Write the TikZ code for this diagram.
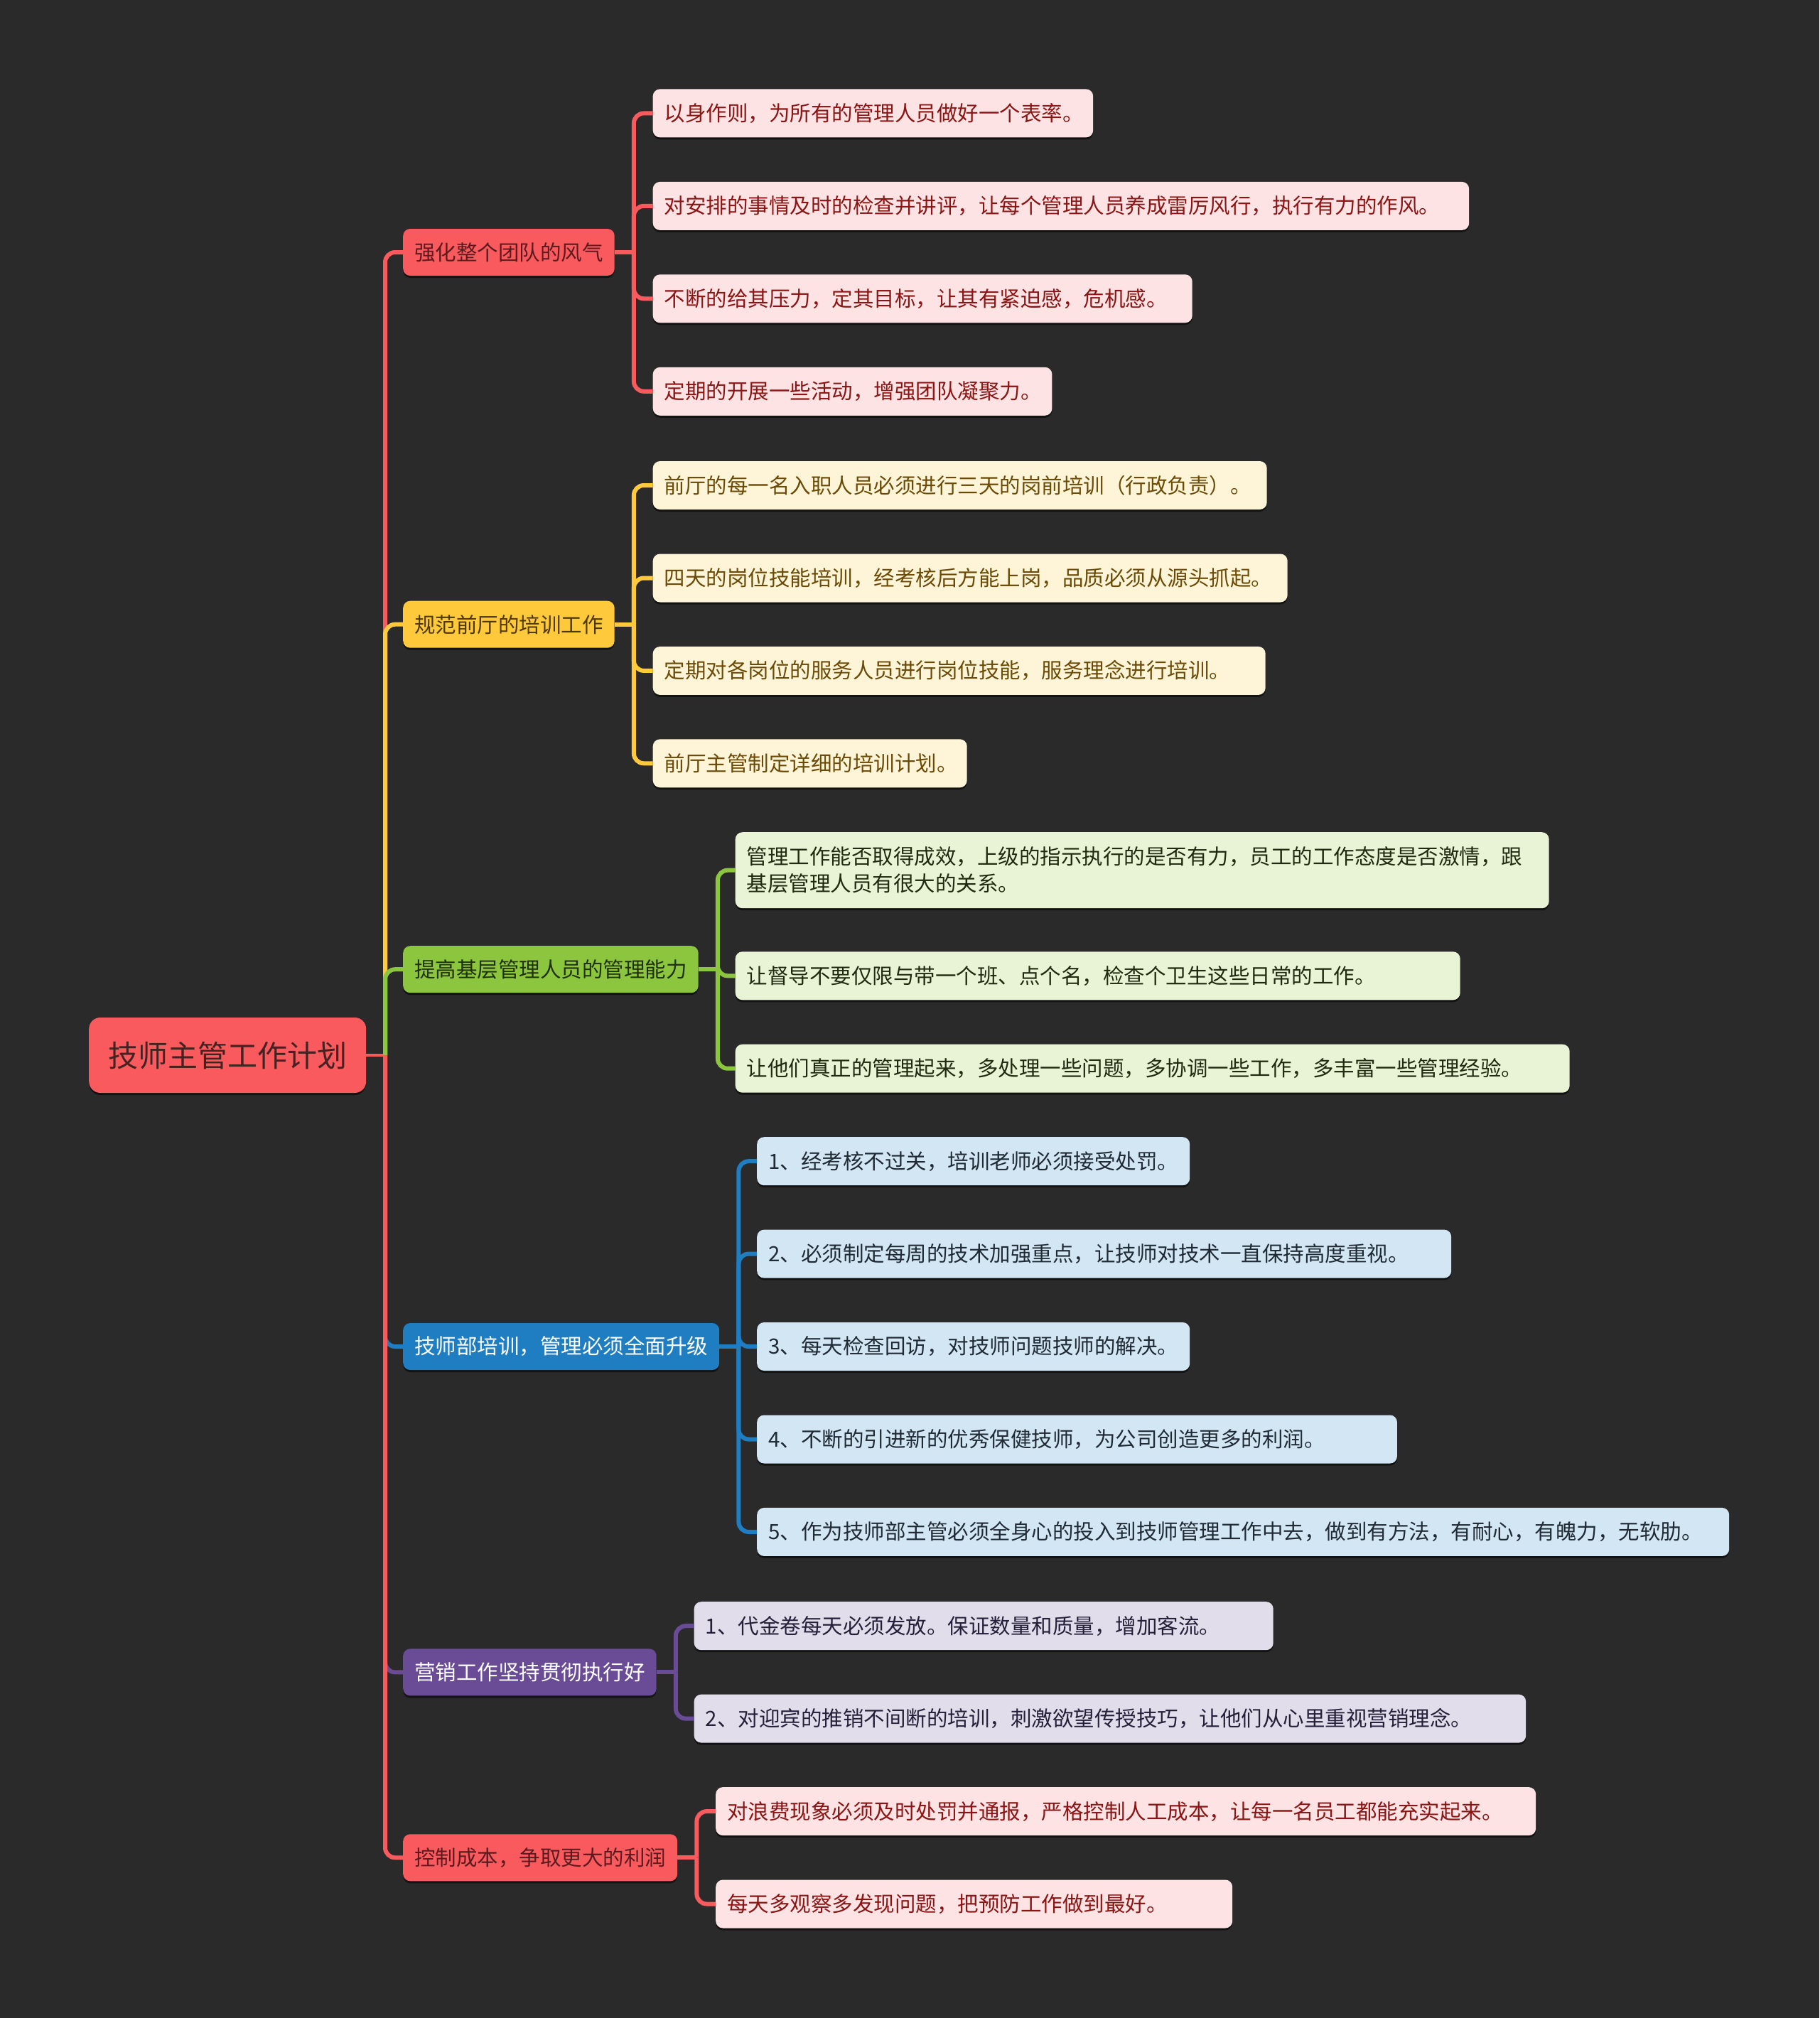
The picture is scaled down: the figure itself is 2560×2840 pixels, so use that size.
\documentclass[tikz,border=0pt]{standalone}
\usepackage{fontspec}
\setmainfont{Noto Sans CJK SC}
\usetikzlibrary{shadows}
\definecolor{bg}{HTML}{2A2A2A}
\definecolor{cred}{HTML}{F95A5E}
\definecolor{cyel}{HTML}{FFC93C}
\definecolor{cgrn}{HTML}{8CC63E}
\definecolor{cblu}{HTML}{1F7EC2}
\definecolor{cpur}{HTML}{6A4C96}
\definecolor{lred}{HTML}{FDE3E3}
\definecolor{lyel}{HTML}{FEF5D9}
\definecolor{lgrn}{HTML}{E9F3D6}
\definecolor{lblu}{HTML}{D3E6F3}
\definecolor{lpur}{HTML}{E1DDEA}
\definecolor{tred}{HTML}{8B1414}
\definecolor{tyel}{HTML}{6B4A05}
\definecolor{tgrn}{HTML}{1F2A10}
\definecolor{tblu}{HTML}{1F2A35}
\definecolor{tpur}{HTML}{25203A}
\definecolor{troot}{HTML}{452222}
\definecolor{tl1red}{HTML}{5C1A1E}
\definecolor{tl1yel}{HTML}{4D3800}
\definecolor{tl1grn}{HTML}{1F3008}
\tikzset{
  box/.style={rounded corners=10pt, inner xsep=16pt, inner ysep=0pt, anchor=west,
    font=\fontsize{29.5}{38}\selectfont,
    drop shadow={shadow xshift=0pt, shadow yshift=-3pt, opacity=0.55, fill=black}},
  lone/.style={box, minimum height=66pt},
  leaf/.style={box, minimum height=68pt, align=left},
  leafR/.style={leaf, fill=lred, text=tred},
  leafY/.style={leaf, fill=lyel, text=tyel},
  leafG/.style={leaf, fill=lgrn, text=tgrn},
  leafB/.style={leaf, fill=lblu, text=tblu},
  leafP/.style={leaf, fill=lpur, text=tpur},
  conn/.style={line width=6pt, rounded corners=14pt},
}
\begin{document}
\begin{tikzpicture}[x=1pt, y=-1pt]
\path[use as bounding box, fill=bg] (0,0) rectangle (2560,2840);

% root
\node[box, rounded corners=16pt, fill=cred, text=troot, minimum width=390pt, minimum height=106pt,
  font=\fontsize{42}{50}\selectfont] (root) at (125,1485) {技师主管工作计划};

% level 1
\node[lone, fill=cred, text=tl1red] (n1) at (567,355) {强化整个团队的风气};
\node[lone, fill=cyel, text=tl1yel] (n2) at (567,878.7) {规范前厅的培训工作};
\node[lone, fill=cgrn, text=tl1grn] (n3) at (567,1364.2) {提高基层管理人员的管理能力};
\node[lone, fill=cblu, text=white] (n4) at (567,1895) {技师部培训，管理必须全面升级};
\node[lone, fill=cpur, text=white] (n5) at (567,2353.4) {营销工作坚持贯彻执行好};
\node[lone, fill=cred, text=tl1red] (n6) at (567,2614.3) {控制成本，争取更大的利润};

% branch 1 leaves
\node[leafR, text width=587.5pt] (a1) at (918.5,159.4) {以身作则，为所有的管理人员做好一个表率。};
\node[leafR, text width=1116.5pt] (a2) at (918.5,289.9) {对安排的事情及时的检查并讲评，让每个管理人员养成雷厉风行，执行有力的作风。};
\node[leafR, text width=727pt] (a3) at (918.5,420.3) {不断的给其压力，定其目标，让其有紧迫感，危机感。};
\node[leafR, text width=529.7pt] (a4) at (918.5,550.8) {定期的开展一些活动，增强团队凝聚力。};

% branch 2 leaves
\node[leafY, text width=832pt] (b1) at (918.5,683) {前厅的每一名入职人员必须进行三天的岗前培训（行政负责）。};
\node[leafY, text width=861pt] (b2) at (918.5,813.5) {四天的岗位技能培训，经考核后方能上岗，品质必须从源头抓起。};
\node[leafY, text width=830pt] (b3) at (918.5,943.9) {定期对各岗位的服务人员进行岗位技能，服务理念进行培训。};
\node[leafY, text width=410pt] (b4) at (918.5,1074.3) {前厅主管制定详细的培训计划。};

% branch 3 leaves
\node[leafG, text width=1113pt, minimum height=107pt] (c1) at (1034.5,1224.7) {管理工作能否取得成效，上级的指示执行的是否有力，员工的工作态度是否激情，跟\\基层管理人员有很大的关系。};
\node[leafG, text width=988pt] (c2) at (1034.5,1373.3) {让督导不要仅限与带一个班、点个名，检查个卫生这些日常的工作。};
\node[leafG, text width=1142pt] (c3) at (1034.5,1503.7) {让他们真正的管理起来，多处理一些问题，多协调一些工作，多丰富一些管理经验。};

% branch 4 leaves
\node[leafB, text width=577pt] (d1) at (1065,1634.2) {1、经考核不过关，培训老师必须接受处罚。};
\node[leafB, text width=945pt] (d2) at (1065,1764.6) {2、必须制定每周的技术加强重点，让技师对技术一直保持高度重视。};
\node[leafB, text width=577pt] (d3) at (1065,1895) {3、每天检查回访，对技师问题技师的解决。};
\node[leafB, text width=868.7pt] (d4) at (1065,2025.5) {4、不断的引进新的优秀保健技师，为公司创造更多的利润。};
\node[leafB, text width=1336pt] (d5) at (1065,2155.9) {5、作为技师部主管必须全身心的投入到技师管理工作中去，做到有方法，有耐心，有魄力，无软肋。};

% branch 5 leaves
\node[leafP, text width=783pt] (e1) at (976.5,2288.2) {1、代金卷每天必须发放。保证数量和质量，增加客流。};
\node[leafP, text width=1138.5pt] (e2) at (976.5,2418.6) {2、对迎宾的推销不间断的培训，刺激欲望传授技巧，让他们从心里重视营销理念。};

% branch 6 leaves
\node[leafR, text width=1122pt] (f1) at (1007,2549.1) {对浪费现象必须及时处罚并通报，严格控制人工成本，让每一名员工都能充实起来。};
\node[leafR, text width=695pt] (f2) at (1007,2679.5) {每天多观察多发现问题，把预防工作做到最好。};

% connectors: root to level 1
\coordinate (j0) at (542,1485);
\draw[line width=4pt, cred] (root.east) -- (j0);
\draw[conn, cred] (j0) |- (n1.west);
\draw[conn, cyel] (j0) |- (n2.west);
\draw[conn, cgrn] (j0) |- (n3.west);
\draw[conn, cblu] (j0) |- (n4.west);
\draw[conn, cpur] (j0) |- (n5.west);
\draw[conn, cred] (j0) |- (n6.west);

% branch 1
\draw[conn, cred] (n1.east) -- ++(27,0) coordinate (s1);
\foreach \c in {a1,a2,a3,a4} \draw[conn, cred] (s1) |- (\c.west);
% branch 2
\draw[conn, cyel] (n2.east) -- ++(27,0) coordinate (s2);
\foreach \c in {b1,b2,b3,b4} \draw[conn, cyel] (s2) |- (\c.west);
% branch 3
\draw[conn, cgrn] (n3.east) -- ++(27,0) coordinate (s3);
\foreach \c in {c1,c2,c3} \draw[conn, cgrn] (s3) |- (\c.west);
% branch 4
\draw[conn, cblu] (n4.east) -- ++(27,0) coordinate (s4);
\foreach \c in {d1,d2,d3,d4,d5} \draw[conn, cblu] (s4) |- (\c.west);
% branch 5
\draw[conn, cpur] (n5.east) -- ++(27,0) coordinate (s5);
\foreach \c in {e1,e2} \draw[conn, cpur] (s5) |- (\c.west);
% branch 6
\draw[conn, cred] (n6.east) -- ++(27,0) coordinate (s6);
\foreach \c in {f1,f2} \draw[conn, cred] (s6) |- (\c.west);
\end{tikzpicture}
\end{document}
